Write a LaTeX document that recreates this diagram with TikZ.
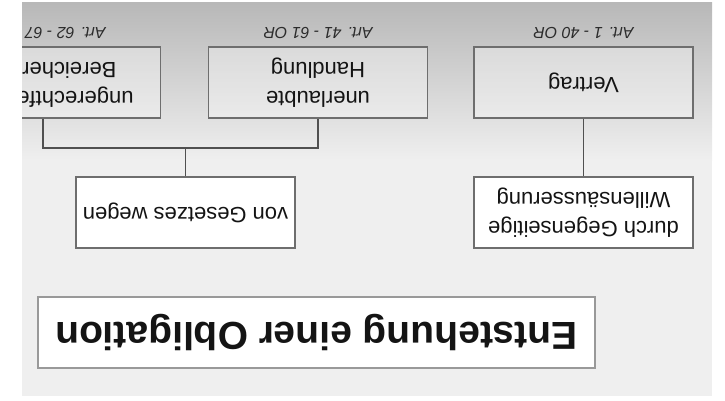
\documentclass[tikz,border=0pt]{standalone}
\usepackage{fontspec}
\setmainfont{Liberation Sans}
\usepackage{graphicx}
\definecolor{panel}{HTML}{EFEFEF}
\definecolor{paneltop}{HTML}{B8B8B8}
\definecolor{boxline}{HTML}{6E6E6E}
\definecolor{conline}{HTML}{505050}
\definecolor{txt}{HTML}{141414}
\newcommand{\updown}[1]{\rotatebox[origin=c]{180}{#1}}
\begin{document}
\begin{tikzpicture}[x=1pt,y=-1pt,
  box/.style={draw=boxline,line width=1.3pt,minimum width=219pt,minimum height=71pt,inner sep=0pt,text=txt,
    font=\fontsize{22}{29}\selectfont},
  topbox/.style={box,fill=white,fill opacity=0.35,text opacity=1},
  lowbox/.style={box,fill=white},
  titlebox/.style={draw=boxline!70,line width=1.5pt,fill=white,minimum width=557pt,minimum height=71pt,inner sep=0pt,
    text=txt,font=\fontsize{39}{44}\selectfont\bfseries},
  artlabel/.style={inner sep=0pt,text=txt!90,font=\fontsize{16}{18}\selectfont\itshape},
  con/.style={draw=conline,line width=1.3pt}]
\useasboundingbox (0,0) rectangle (725,401);
\fill[panel] (22,3) rectangle (712,396);
\shade[top color=paneltop,bottom color=panel] (22,3) rectangle (712,160);
\begin{scope}
\clip (22,3) rectangle (712,396);
\node[topbox] (bereich) at (51,82.5) {\updown{\begin{tabular}{@{}c@{}}ungerechtfertigte\\Bereicherung\end{tabular}}};
\node[topbox] (handlung) at (318,82.5) {\updown{\begin{tabular}{@{}c@{}}unerlaubte\\Handlung\end{tabular}}};
\node[topbox] (vertrag) at (583.5,82.5) {\updown{Vertrag}};
\node[artlabel] (art3) at (51,33) {\updown{Art. 62 - 67 OR}};
\node[artlabel] (art2) at (318,33) {\updown{Art. 41 - 61 OR}};
\node[artlabel] (art1) at (583.5,33) {\updown{Art. 1 - 40 OR}};
\node[lowbox] (gesetz) at (185.5,212.5) {\updown{von Gesetzes wegen}};
\node[lowbox] (durch) at (583.5,212.5) {\updown{\begin{tabular}{@{}c@{}}durch Gegenseitige\\Willensäusserung\end{tabular}}};
\node[titlebox] (title) at (316.5,332.5) {\updown{Entstehung einer Obligation}};
\coordinate (jl) at (43,148);
\coordinate (jr) at (318,148);
\coordinate (jm) at (185.5,148);
\draw[con] (bereich.south -| jl) -- (jl) -- (jr) -- (handlung.south);
\draw[con] (gesetz.north) -- (jm);
\draw[con] (vertrag.south) -- (durch.north);
\end{scope}
\end{tikzpicture}
\end{document}
